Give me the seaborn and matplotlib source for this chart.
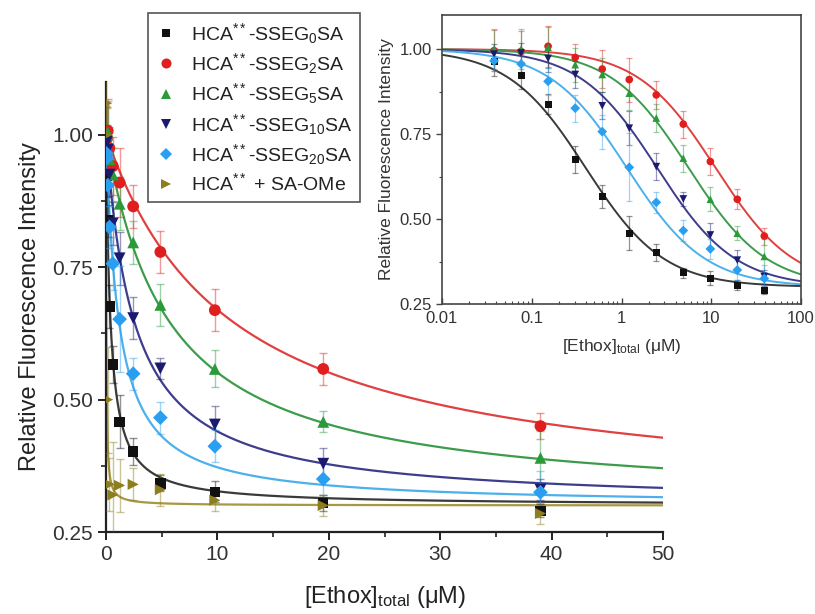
import numpy as np
import matplotlib
matplotlib.use("Agg")
import matplotlib.pyplot as plt
import seaborn as sns
from matplotlib.lines import Line2D
from matplotlib.ticker import MultipleLocator, LogLocator, NullFormatter

# ---------------- data ----------------
conc = [0.038, 0.076, 0.152, 0.305, 0.61, 1.22, 2.44, 4.88, 9.77, 19.5, 39.0]

labels = [r"HCA$^{**}$-SSEG$_{0}$SA", r"HCA$^{**}$-SSEG$_{2}$SA", r"HCA$^{**}$-SSEG$_{5}$SA",
          r"HCA$^{**}$-SSEG$_{10}$SA", r"HCA$^{**}$-SSEG$_{20}$SA", r"HCA$^{**}$ + SA-OMe"]

y_sseg0 = [0.962, 0.922, 0.838, 0.676, 0.566, 0.458, 0.402, 0.342, 0.326, 0.305, 0.290]
y_sseg2 = [0.995, 0.993, 1.008, 0.975, 0.941, 0.910, 0.865, 0.779, 0.669, 0.558, 0.450]
y_sseg5 = [1.000, 1.000, 1.005, 0.954, 0.925, 0.870, 0.797, 0.679, 0.558, 0.458, 0.390]
y_sseg10 = [0.985, 0.988, 0.972, 0.925, 0.833, 0.767, 0.654, 0.559, 0.453, 0.379, 0.330]
y_sseg20 = [0.965, 0.956, 0.905, 0.826, 0.757, 0.652, 0.549, 0.466, 0.412, 0.350, 0.325]
y_saome = [1.060, 1.000, 0.500, 0.340, 0.320, 0.338, 0.340, 0.330, 0.310, 0.300, 0.285]

e_sseg0 = [0.04, 0.04, 0.03, 0.04, 0.035, 0.05, 0.025, 0.015, 0.02, 0.015, 0.012]
e_sseg2 = [0.06, 0.06, 0.06, 0.04, 0.055, 0.065, 0.04, 0.04, 0.04, 0.03, 0.025]
e_sseg5 = [0.06, 0.06, 0.06, 0.05, 0.05, 0.05, 0.04, 0.04, 0.035, 0.02, 0.05]
e_sseg10 = [0.03, 0.03, 0.04, 0.04, 0.04, 0.05, 0.04, 0.02, 0.035, 0.03, 0.02]
e_sseg20 = [0.03, 0.03, 0.04, 0.04, 0.05, 0.10, 0.03, 0.03, 0.03, 0.03, 0.04]
e_saome = [0.05, 0.05, 0.10, 0.05, 0.10, 0.05, 0.03, 0.03, 0.02, 0.02, 0.02]

# fitted binding-curve parameters: y = bottom + (1 - bottom) / (1 + x / K)
fit_bottom = [0.30, 0.30, 0.30, 0.30, 0.30, 0.30]
fit_k = [0.40, 11.2, 5.6, 2.5, 1.15, 0.03]

ys = [y_sseg0, y_sseg2, y_sseg5, y_sseg10, y_sseg20, y_saome]
es = [e_sseg0, e_sseg2, e_sseg5, e_sseg10, e_sseg20, e_saome]

main_xticks = [0, 10, 20, 30, 40, 50]
y_ticks = [0.25, 0.50, 0.75, 1.00]
inset_xticks = [0.01, 0.1, 1, 10, 100]
inset_xticklabels = ["0.01", "0.1", "1", "10", "100"]

# ---------------- style ----------------
markers = ["s", "o", "^", "v", "D", ">"]
mcolors = ["#111111", "#e01e1e", "#2a9a3a", "#1a1a70", "#2a9ef0", "#8c7d1e"]
lcolors = ["#3a3a3a", "#e04040", "#3c9c4c", "#3d3d8c", "#4cb0ea", "#a89840"]
msize_main = [7.5, 8.5, 8.5, 8.5, 7.5, 8.0]
msize_inset = [5.0, 5.5, 5.5, 5.5, 5.0, 5.0]

sns.set_theme(style="ticks")
plt.rcParams["font.family"] = ["Liberation Sans", "DejaVu Sans"]
plt.rcParams["mathtext.fontset"] = "custom"
plt.rcParams["mathtext.rm"] = "Liberation Sans"
plt.rcParams["mathtext.it"] = "Liberation Sans:italic"
plt.rcParams["mathtext.default"] = "regular"

fig = plt.figure(figsize=(8.15, 6.14), dpi=100)
W, H = 815, 614

def pos(l, t, r, b):
    return [l / W, 1 - b / H, (r - l) / W, (b - t) / H]

ax = fig.add_axes(pos(106, 82, 663, 532))
axi = fig.add_axes(pos(442, 15, 801, 304))

def curve(x, b, k):
    return b + (1 - b) / (1 + x / k)

xg_main = np.concatenate([[0.0], np.geomspace(1e-4, 50, 3000)])
xg_inset = np.geomspace(0.01, 100, 800)

for i in range(6):
    b, k = fit_bottom[i], fit_k[i]
    sns.lineplot(x=xg_main, y=curve(xg_main, b, k), ax=ax, color=lcolors[i], lw=1.6,
                 sort=False, estimator=None, legend=False, zorder=2)
    ax.errorbar(conc, ys[i], yerr=es[i], fmt="none", ecolor=mcolors[i], alpha=0.45,
                elinewidth=1.0, capsize=3, capthick=1.0, zorder=3)
    sns.scatterplot(x=conc, y=ys[i], ax=ax, marker=markers[i], color=mcolors[i],
                    s=msize_main[i] ** 2, edgecolor="none", legend=False, zorder=4)
    if i < 5:
        sns.lineplot(x=xg_inset, y=curve(xg_inset, b, k), ax=axi, color=lcolors[i], lw=1.4,
                     sort=False, estimator=None, legend=False, zorder=2)
        axi.errorbar(conc, ys[i], yerr=es[i], fmt="none", ecolor=mcolors[i], alpha=0.45,
                     elinewidth=0.9, capsize=2.5, capthick=0.9, zorder=3)
        sns.scatterplot(x=conc, y=ys[i], ax=axi, marker=markers[i], color=mcolors[i],
                        s=msize_inset[i] ** 2, edgecolor="none", legend=False, zorder=4)

# main axes
ax.set_xlim(0, 50)
ax.set_ylim(0.25, 1.10)
ax.set_xticks(main_xticks)
ax.set_yticks(y_ticks)
ax.set_yticklabels([f"{v:.2f}" for v in y_ticks])
ax.xaxis.set_minor_locator(MultipleLocator(5))
ax.yaxis.set_minor_locator(MultipleLocator(0.125))
for s in ["top", "right"]:
    ax.spines[s].set_visible(False)
for s in ["left", "bottom"]:
    ax.spines[s].set_color("#222222")
    ax.spines[s].set_linewidth(1.6)
ax.tick_params(axis="both", which="major", labelsize=15, length=6, width=1.4,
               direction="out", colors="#222222", labelcolor="#333333")
ax.tick_params(axis="both", which="minor", length=3.5, width=1.2, direction="out", colors="#222222")
ax.set_xlabel("[Ethox]$_{total}$ (μM)", fontsize=17, color="#222222", labelpad=14)
ax.set_ylabel("Relative Fluorescence Intensity", fontsize=17, color="#222222", labelpad=8)
ax.patch.set_alpha(0)

# inset
axi.set_xscale("log")
axi.set_xlim(0.01, 100)
axi.set_ylim(0.25, 1.10)
axi.set_xticks(inset_xticks)
axi.set_xticklabels(inset_xticklabels)
axi.xaxis.set_minor_locator(LogLocator(base=10, subs=np.arange(2, 10)))
axi.xaxis.set_minor_formatter(NullFormatter())
axi.set_yticks(y_ticks)
axi.set_yticklabels([f"{v:.2f}" for v in y_ticks])
axi.yaxis.set_minor_locator(MultipleLocator(0.125))
for s in axi.spines.values():
    s.set_color("#444444")
    s.set_linewidth(1.2)
axi.tick_params(axis="x", which="major", labelsize=12, length=4, width=1, direction="in",
                colors="#444444", labelcolor="#333333", pad=5)
axi.tick_params(axis="x", which="minor", length=2.5, width=0.8, direction="in", colors="#444444")
axi.tick_params(axis="y", which="major", labelsize=12, length=4, width=1, direction="out",
                colors="#444444", labelcolor="#333333")
axi.tick_params(axis="y", which="minor", length=2.5, width=0.8, direction="out", colors="#444444")
axi.set_xlabel("[Ethox]$_{total}$ (μM)", fontsize=12.5, color="#333333", labelpad=8)
axi.set_ylabel("Relative Fluorescence Intensity", fontsize=12.5, color="#333333", labelpad=4)
axi.set_facecolor("white")

# legend
handles = [Line2D([], [], linestyle="none", marker=markers[i], color=mcolors[i],
                  markersize=msize_main[i] * 0.85, markeredgewidth=0) for i in range(6)]
leg = fig.legend(handles, labels, loc="upper left", bbox_to_anchor=(148 / W, 1 - 13 / H),
                 bbox_transform=fig.transFigure, borderaxespad=0, fontsize=14,
                 frameon=True, fancybox=False, edgecolor="#555555", framealpha=1,
                 labelspacing=0.28, handlelength=1.0, handletextpad=0.8, borderpad=0.4)
leg.get_frame().set_linewidth(1.2)
for t in leg.get_texts():
    t.set_color("#222222")

fig.savefig("out.png", dpi=100)
